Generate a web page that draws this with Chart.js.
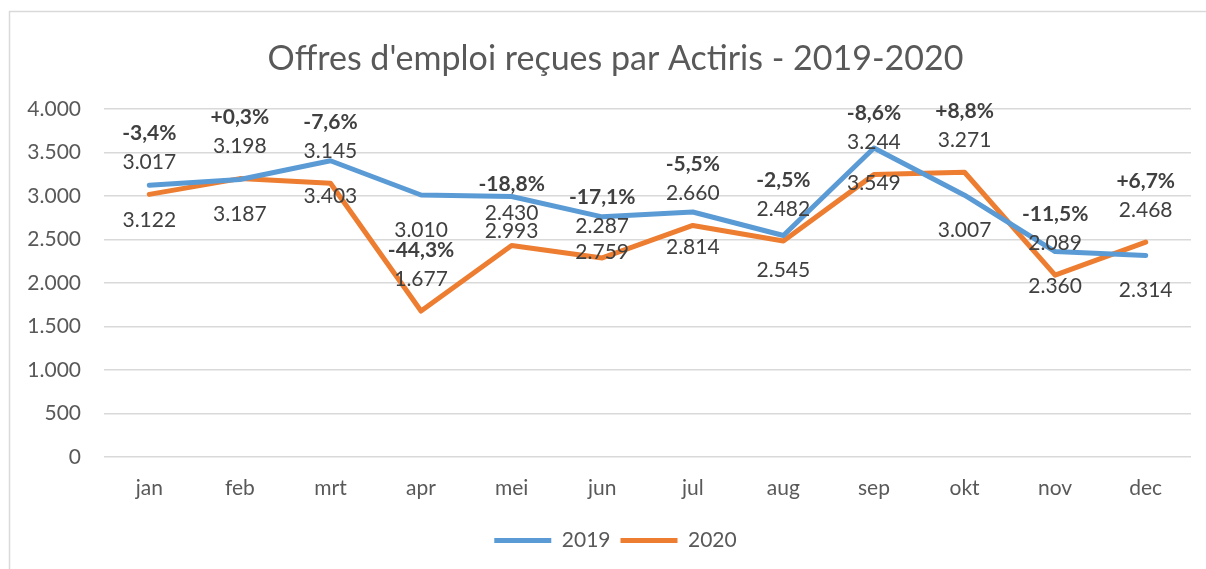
<!DOCTYPE html>
<html>
<head>
<meta charset="utf-8">
<script src="https://cdn.jsdelivr.net/npm/chart.js@4/dist/chart.umd.min.js"></script>
<style>
  html, body { margin: 0; padding: 0; background: #fff; overflow: hidden; }
  #wrap { width: 1231px; height: 569px; position: relative; }
</style>
</head>
<body>
<div id="wrap"><canvas id="chart"></canvas></div>
<script>
// data
var months = ["jan", "feb", "mrt", "apr", "mei", "jun", "jul", "aug", "sep", "okt", "nov", "dec"];
var offers2019 = [3122, 3187, 3403, 3010, 2993, 2759, 2814, 2545, 3549, 3007, 2360, 2314];
var offers2020 = [3017, 3198, 3145, 1677, 2430, 2287, 2660, 2482, 3244, 3271, 2089, 2468];
var yTicks = [0, 500, 1000, 1500, 2000, 2500, 3000, 3500, 4000];

var FONT = "Lato, 'Open Sans', sans-serif";

// 3.122 style numbers
function fmtNum(v) {
    return String(v).replace(/\B(?=(\d{3})+(?!\d))/g, ".");
}

// -3,4% style change
function fmtPct(a, b) {
    var p = (b / a - 1) * 100;
    var s = Math.abs(p).toFixed(1).replace(".", ",");
    return (p >= 0 ? "+" : "-") + s + "%";
}

// light grey frame around the chart
var framePlugin = {
    id: "frame",
    beforeDraw: function (chart) {
        var ctx = chart.ctx;
        ctx.save();
        ctx.fillStyle = "#fff";
        ctx.fillRect(0, 0, chart.width, chart.height);
        ctx.strokeStyle = "#d9d9d9";
        ctx.lineWidth = 1.5;
        ctx.strokeRect(9.5, 11.5, 1400, 700);
        ctx.restore();
    }
};

// value labels: 2019 under its point, 2020 + change above its point
var labelPlugin = {
    id: "valueLabels",
    afterDatasetsDraw: function (chart) {
        var ctx = chart.ctx;
        var m19 = chart.getDatasetMeta(0).data;
        var m20 = chart.getDatasetMeta(1).data;
        ctx.save();
        ctx.textAlign = "center";
        ctx.textBaseline = "middle";
        ctx.fillStyle = "#404040";
        for (var i = 0; i < months.length; i++) {
            ctx.font = "21px " + FONT;
            ctx.fillText(fmtNum(offers2019[i]), m19[i].x, m19[i].y + 35);
            ctx.fillText(fmtNum(offers2020[i]), m20[i].x, m20[i].y - 32);
            ctx.font = "bold 21px " + FONT;
            ctx.fillText(fmtPct(offers2019[i], offers2020[i]), m20[i].x, m20[i].y - 61);
        }
        ctx.restore();
    }
};

var config = {
    type: "line",
    data: {
        labels: months,
        datasets: [
            {
                label: "2019",
                data: offers2019,
                borderColor: "#5b9bd5",
                backgroundColor: "#5b9bd5",
                borderWidth: 5,
                borderCapStyle: "round",
                borderJoinStyle: "round",
                pointRadius: 0,
                tension: 0
            },
            {
                label: "2020",
                data: offers2020,
                borderColor: "#ed7d31",
                backgroundColor: "#ed7d31",
                borderWidth: 5,
                borderCapStyle: "round",
                borderJoinStyle: "round",
                pointRadius: 0,
                tension: 0
            }
        ]
    },
    options: {
        responsive: true,
        maintainAspectRatio: false,
        animation: false,
        layout: { padding: { top: 12, left: 10, right: 10, bottom: 8 } },
        plugins: {
            title: {
                display: true,
                text: "Offres d'emploi reçues par Actiris - 2019-2020",
                color: "#595959",
                font: { family: FONT, size: 34, weight: "normal" },
                padding: { top: 27, bottom: 29 }
            },
            legend: {
                position: "bottom",
                labels: {
                    usePointStyle: true,
                    pointStyle: "line",
                    pointStyleWidth: 57,
                    padding: 10,
                    color: "#595959",
                    font: { family: FONT, size: 21 }
                }
            },
            tooltip: { enabled: false }
        },
        scales: {
            x: {
                offset: true,
                grid: { display: false, drawTicks: false },
                border: { display: false },
                ticks: { color: "#595959", font: { family: FONT, size: 21 }, padding: 19 },
                afterFit: function (scale) { scale.height = 63; }
            },
            y: {
                min: 0,
                max: 4000,
                afterBuildTicks: function (scale) {
                    scale.ticks = yTicks.map(function (v) { return { value: v }; });
                },
                grid: { color: "#d9d9d9", lineWidth: 1.5, drawTicks: false },
                border: { display: false },
                ticks: {
                    color: "#595959",
                    font: { family: FONT, size: 21 },
                    padding: 23,
                    callback: function (v) { return fmtNum(v); }
                },
                afterFit: function (scale) { scale.width = 94; }
            },
            // empty right margin so the plot ends where the reference does
            yRight: {
                type: "linear",
                position: "right",
                grid: { display: false, drawTicks: false },
                border: { display: false },
                ticks: { display: false },
                afterFit: function (scale) { scale.width = 30; }
            }
        }
    },
    plugins: [framePlugin, labelPlugin]
};

new Chart(document.getElementById("chart"), config);
</script>
</body>
</html>
